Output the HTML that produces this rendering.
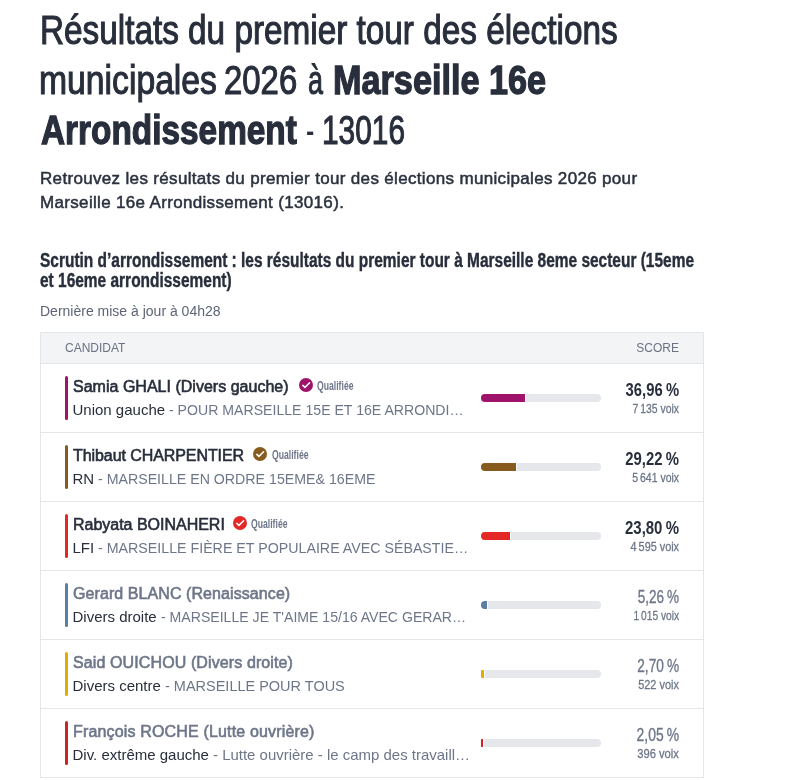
<!DOCTYPE html>
<html lang="fr">
<head>
<meta charset="utf-8">
<style>
*{margin:0;padding:0;box-sizing:border-box}
html,body{width:802px;height:780px;background:#fff;overflow:hidden}
body{will-change:transform}
body{position:relative;font-family:"Liberation Sans",sans-serif;color:#282e3b}
.a{position:absolute;white-space:nowrap}
.sx{display:inline-block;transform-origin:0 0;white-space:nowrap}
.h1{left:0;top:5px;width:802px;height:50px;font-size:41px;line-height:50px;color:#282e3b}
.h1 .sx{top:0;font-size:41px;-webkit-text-stroke:1.1px #282e3b}
.h1 .b{font-weight:bold;-webkit-text-stroke:1.3px #282e3b}
.sub{left:40px;top:167px;font-size:17px;line-height:24px;color:#2b313e;letter-spacing:0.33px;-webkit-text-stroke:0.5px #2b313e}
.h2{left:40px;top:250px;font-size:19.5px;line-height:20px;font-weight:bold;color:#282e3b;-webkit-text-stroke:0.4px #282e3b}
.upd{left:40px;top:303px;font-size:14px;line-height:16px;color:#5d6575}
.tbl{position:absolute;left:40px;top:332px;width:664px;height:446px;border:1px solid #e4e6ea}
.th{position:absolute;left:0;top:0;width:662px;height:31px;background:#f3f4f6;border-bottom:1px solid #e4e6ea}
.th .c1{position:absolute;left:24px;top:8px;font-size:12px;line-height:14px;color:#6b7282}
.th .c2{position:absolute;right:24px;top:8px;font-size:12px;line-height:14px;color:#6b7282}
.row{position:absolute;left:0;width:662px;height:69px;border-bottom:1px solid #e4e6ea}
.row .bar{position:absolute;left:24px;top:12px;width:3px;height:44px;border-radius:2px}
.row .nm{position:absolute;left:32px;top:13.6px;font-size:16px;line-height:18px;letter-spacing:0px;color:#282e3b;-webkit-text-stroke:0.6px #282e3b}
.row .ds{position:absolute;left:31.5px;top:36.8px;font-size:15px;line-height:18px;color:#282e3b}
.row .ds .g{color:#6d7689;display:inline-block;transform-origin:0 0;transform:scaleX(0.947)}
.row .ds .lc{font-size:15px}
.row.o .nm{color:#6d7689;-webkit-text-stroke:0.6px #6d7689}
.row .qb{position:absolute;top:14px;width:14px;height:14px}
.row .ql{position:absolute;top:16px;font-size:12px;line-height:12px;font-weight:bold;color:#6d7689}
.row .trk{position:absolute;left:440px;top:30px;width:120px;height:8px;border-radius:4px;background:#e6e7eb}
.row .trk i{position:absolute;left:0;top:0;height:8px;display:block;box-shadow:1px 0 0 #fff;border-radius:4px 0 0 4px}
.row .sc{position:absolute;right:24px;top:17px;font-size:18px;line-height:18px;font-weight:bold;color:#282e3b;transform-origin:100% 0}
.row.o .sc{font-weight:normal;color:#6d7689;-webkit-text-stroke:0.35px #6d7689}
.row .vx{position:absolute;right:24px;top:38px;font-size:13.4px;line-height:14px;color:#6d7689;transform-origin:100% 0;-webkit-text-stroke:0.3px #6d7689}
</style>
</head>
<body>
<div class="a h1" style="top:5px"><span id="t1" class="a sx" style="left:39.52px;transform:scaleX(0.8124)">Résultats du premier tour des élections</span></div>
<div class="a h1" style="top:55px"><span id="t2a" class="a sx" style="left:39.12px;transform:scaleX(0.8220)">municipales</span><span id="t2b" class="a sx" style="left:224.03px;transform:scaleX(0.8029)">2026</span><span id="t2c" class="a sx" style="left:308.06px;transform:scaleX(0.6562)">à</span><span id="t2d" class="a sx b" style="left:333.05px;transform:scaleX(0.8349)">Marseille 16e</span></div>
<div class="a h1" style="top:105px"><span id="t3a" class="a sx b" style="left:41.40px;transform:scaleX(0.8137)">Arrondissement</span><span id="t3b" class="a sx" style="left:306.1px;transform:scaleX(0.6);-webkit-text-stroke:0.2px #282e3b">-</span><span id="t3c" class="a sx" style="left:321.52px;transform:scaleX(0.7278)">13016</span></div>
<div class="a sub">Retrouvez les résultats du premier tour des élections municipales 2026 pour<br>Marseille 16e Arrondissement (13016).</div>
<div class="a h2"><span class="sx" style="transform:scaleX(0.793)">Scrutin d’arrondissement : les résultats du premier tour à Marseille 8eme secteur (15eme<br>et 16eme arrondissement)</span></div>
<div class="a upd">Dernière mise à jour à 04h28</div>

<div class="tbl">
  <div class="th"><span class="c1">CANDIDAT</span><span class="c2">SCORE</span></div>

  <div class="row" style="top:31px">
    <span class="bar" style="background:#a0136a"></span>
    <span class="a nm" id="n0" style="letter-spacing:0.016px">Samia GHALI (Divers gauche)</span>
    <svg class="qb" style="left:258px" viewBox="0 0 14 14"><circle cx="7" cy="7" r="7" fill="#a0136a"/><path d="M3.8 7.4 L5.9 9.4 L10.6 4.8" fill="none" stroke="#fff" stroke-width="1.5" stroke-linecap="round" stroke-linejoin="round"/></svg>
    <span class="a ql" style="left:276px"><span class="sx" style="transform:scaleX(0.72)">Qualifiée</span></span>
    <span class="a ds"><span class="lc">Union gauche</span> <span class="g" style="transform:scaleX(0.9407)">- POUR MARSEILLE 15E ET 16E ARRONDI…</span></span>
    <span class="trk"><i style="width:44.4px;background:#a0136a"></i></span>
    <span class="a sc" style="transform:scaleX(0.822)">36,96<span style="margin-left:4px">%</span></span>
    <span class="a vx" style="transform:scaleX(0.777)">7&#8201;135 voix</span>
  </div>

  <div class="row" style="top:100px">
    <span class="bar" style="background:#875a1e"></span>
    <span class="a nm" id="n1" style="letter-spacing:-0.077px">Thibaut CHARPENTIER</span>
    <svg class="qb" style="left:212px" viewBox="0 0 14 14"><circle cx="7" cy="7" r="7" fill="#875a1e"/><path d="M3.8 7.4 L5.9 9.4 L10.6 4.8" fill="none" stroke="#fff" stroke-width="1.5" stroke-linecap="round" stroke-linejoin="round"/></svg>
    <span class="a ql" style="left:230.5px"><span class="sx" style="transform:scaleX(0.72)">Qualifiée</span></span>
    <span class="a ds"><span class="lc">RN</span> <span class="g" style="transform:scaleX(0.9454)">- MARSEILLE EN ORDRE 15EME&amp; 16EME</span></span>
    <span class="trk"><i style="width:35.1px;background:#875a1e"></i></span>
    <span class="a sc" style="transform:scaleX(0.826)">29,22<span style="margin-left:4px">%</span></span>
    <span class="a vx" style="transform:scaleX(0.781)">5&#8201;641 voix</span>
  </div>

  <div class="row" style="top:169px">
    <span class="bar" style="background:#e42828"></span>
    <span class="a nm" id="n2" style="letter-spacing:-0.013px">Rabyata BOINAHERI</span>
    <svg class="qb" style="left:192px" viewBox="0 0 14 14"><circle cx="7" cy="7" r="7" fill="#e42828"/><path d="M3.8 7.4 L5.9 9.4 L10.6 4.8" fill="none" stroke="#fff" stroke-width="1.5" stroke-linecap="round" stroke-linejoin="round"/></svg>
    <span class="a ql" style="left:210px"><span class="sx" style="transform:scaleX(0.72)">Qualifiée</span></span>
    <span class="a ds"><span class="lc">LFI</span> <span class="g" style="transform:scaleX(0.9483)">- MARSEILLE FIÈRE ET POPULAIRE AVEC SÉBASTIE…</span></span>
    <span class="trk"><i style="width:28.6px;background:#e42828"></i></span>
    <span class="a sc" style="transform:scaleX(0.831)">23,80<span style="margin-left:4px">%</span></span>
    <span class="a vx" style="transform:scaleX(0.810)">4&#8201;595 voix</span>
  </div>

  <div class="row o" style="top:238px">
    <span class="bar" style="background:#5a7fa2"></span>
    <span class="a nm" id="n3" style="letter-spacing:0.080px">Gerard BLANC (Renaissance)</span>
    <span class="a ds"><span class="lc">Divers droite</span> <span class="g" style="transform:scaleX(0.9391)">- MARSEILLE JE T'AIME 15/16 AVEC GERAR…</span></span>
    <span class="trk"><i style="width:6.3px;background:#5a7fa2"></i></span>
    <span class="a sc" style="transform:scaleX(0.752)">5,26<span style="margin-left:4px">%</span></span>
    <span class="a vx" style="transform:scaleX(0.760)">1&#8201;015 voix</span>
  </div>

  <div class="row o" style="top:307px">
    <span class="bar" style="background:#dfae00"></span>
    <span class="a nm" id="n4" style="letter-spacing:0.111px">Said OUICHOU (Divers droite)</span>
    <span class="a ds"><span class="lc">Divers centre</span> <span class="g" style="transform:scaleX(0.9657)">- MARSEILLE POUR TOUS</span></span>
    <span class="trk"><i style="width:3.3px;background:#dfae00;border-radius:1.2px 0 0 1.2px"></i></span>
    <span class="a sc" style="transform:scaleX(0.759)">2,70<span style="margin-left:4px">%</span></span>
    <span class="a vx" style="transform:scaleX(0.816)">522 voix</span>
  </div>

  <div class="row o" style="top:376px;border-bottom:0">
    <span class="bar" style="background:#cb2424"></span>
    <span class="a nm" id="n5" style="letter-spacing:0.160px">François ROCHE (Lutte ouvrière)</span>
    <span class="a ds"><span class="lc">Div. extrême gauche</span> <span class="g lc" style="transform:scaleX(0.9978)">- Lutte ouvrière - le camp des travaill…</span></span>
    <span class="trk"><i style="width:2.4px;background:#cb2424;border-radius:0.5px 0 0 0.5px"></i></span>
    <span class="a sc" style="transform:scaleX(0.771)">2,05<span style="margin-left:4px">%</span></span>
    <span class="a vx" style="transform:scaleX(0.836)">396 voix</span>
  </div>
</div>
</body>
</html>
